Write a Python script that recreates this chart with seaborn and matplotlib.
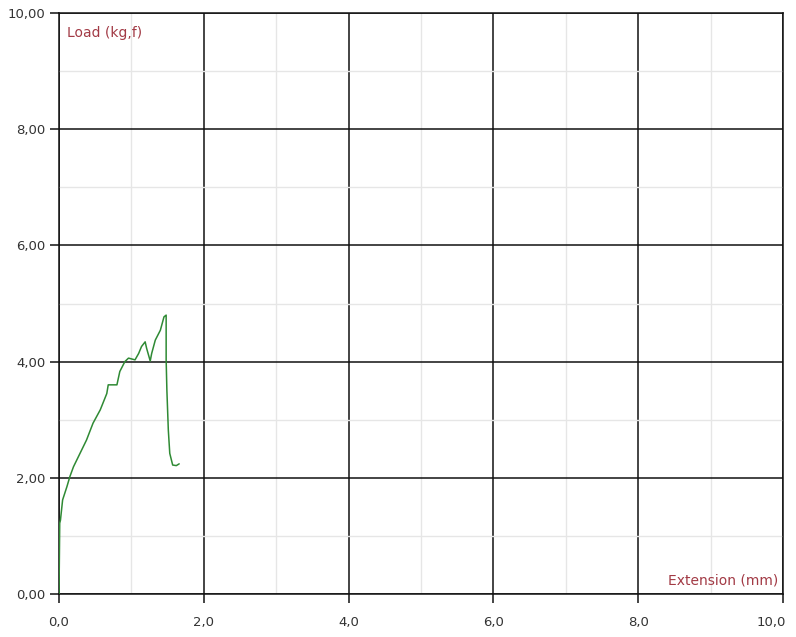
import matplotlib
matplotlib.use("Agg")
import matplotlib.pyplot as plt
from matplotlib.ticker import MultipleLocator
import matplotlib.transforms as mtransforms
import seaborn as sns
import pandas as pd

extension_mm = [0.00, 0.01, 0.02, 0.05, 0.11, 0.15, 0.20, 0.29, 0.38, 0.47, 0.57, 0.66, 0.68,
                0.80, 0.84, 0.91, 0.96, 1.05, 1.10, 1.14, 1.19, 1.21, 1.26, 1.28, 1.33, 1.40,
                1.45, 1.48, 1.48, 1.49, 1.51, 1.53, 1.57, 1.62, 1.66]
load_kgf = [0.00, 1.22, 1.27, 1.62, 1.85, 2.02, 2.19, 2.42, 2.65, 2.94, 3.17, 3.45, 3.60,
            3.60, 3.83, 4.00, 4.06, 4.03, 4.14, 4.26, 4.34, 4.23, 4.01, 4.14, 4.37, 4.54,
            4.77, 4.80, 4.03, 3.51, 2.82, 2.42, 2.22, 2.21, 2.24]

x_ticks = [0, 2, 4, 6, 8, 10]
x_tick_labels = ["0,0", "2,0", "4,0", "6,0", "8,0", "10,0"]
y_ticks = [0, 2, 4, 6, 8, 10]
y_tick_labels = ["0,00", "2,00", "4,00", "6,00", "8,00", "10,00"]

x_label = "Extension (mm)"
y_label = "Load (kg,f)"

df = pd.DataFrame({"x": extension_mm, "y": load_kgf})

sns.set_style("white")
fig = plt.figure(figsize=(7.96, 6.37), dpi=100)
ax = fig.add_axes([59/796, 1-594/637, (783-59)/796, (594-13)/637])

sns.lineplot(data=df, x="x", y="y", sort=False, estimator=None, color="#2f8a34",
             linewidth=1.1, ax=ax, zorder=3)

ax.set_xlim(0, 10)
ax.set_ylim(0, 10)
ax.set_xticks(x_ticks, labels=x_tick_labels)
ax.set_yticks(y_ticks, labels=y_tick_labels)
ax.xaxis.set_minor_locator(MultipleLocator(1))
ax.yaxis.set_minor_locator(MultipleLocator(1))
ax.grid(which="minor", color="#e6e6e6", linewidth=1.0)
ax.grid(which="major", color="#111111", linewidth=1.1)
ax.set_axisbelow(True)

ax.tick_params(which="major", direction="out", length=6.5, width=1.1, color="#111111",
               labelsize=9.5, labelcolor="#333333", bottom=True, left=True, pad=9)
ax.tick_params(axis="y", pad=3)
ax.tick_params(which="minor", length=0)
for s in ax.spines.values():
    s.set_color("#111111")
    s.set_linewidth(1.1)

ax.set_xlabel("")
ax.set_ylabel("")

last = ax.get_xticklabels()[-1]
last.set_horizontalalignment("right")
last.set_transform(last.get_transform() + mtransforms.ScaledTranslation(3/100, 0, fig.dpi_scale_trans))

ax.text(0.011, 0.977, y_label, transform=ax.transAxes, color="#a23a45",
        fontsize=10, ha="left", va="top")
ax.text(0.993, 0.012, x_label, transform=ax.transAxes, color="#a23a45",
        fontsize=10, ha="right", va="bottom")

fig.savefig("out.png", dpi=100)
